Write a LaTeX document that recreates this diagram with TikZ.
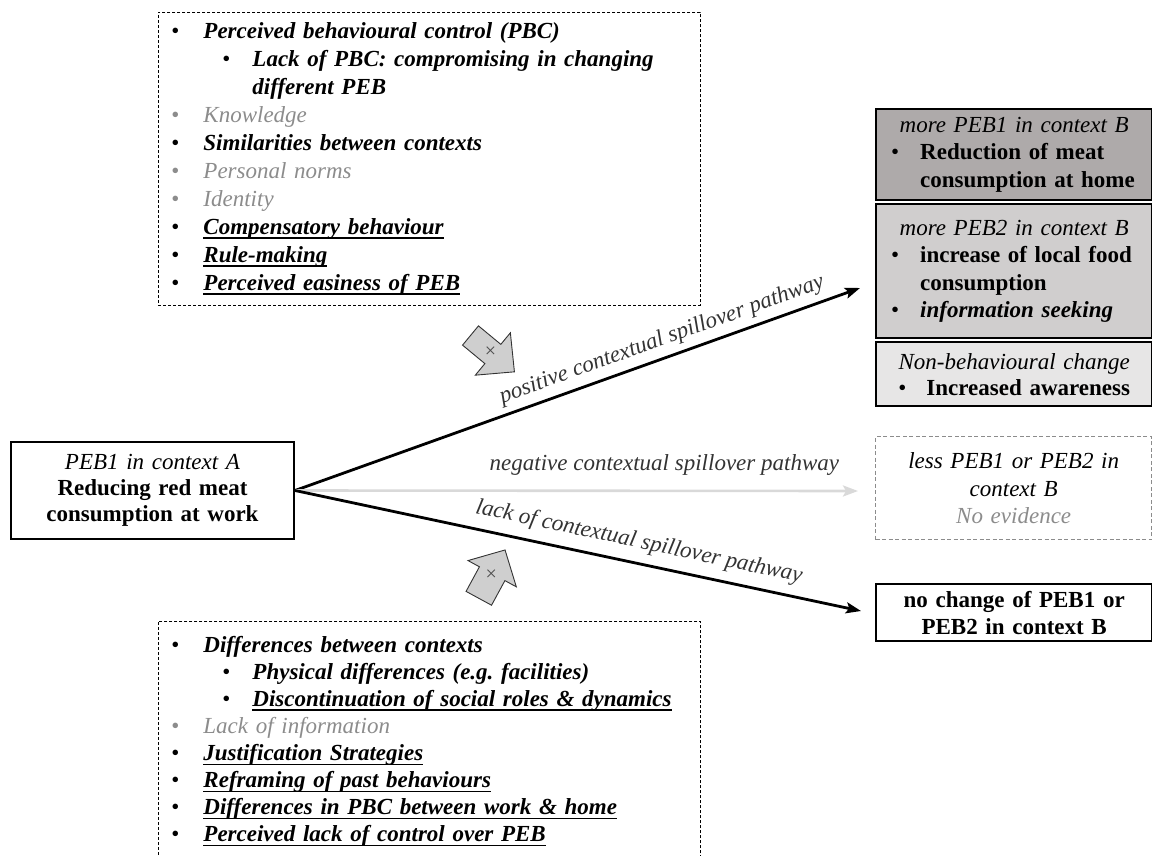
\documentclass[tikz,border=0pt]{standalone}
\usepackage{fontspec}
\setmainfont{Liberation Serif}
\usetikzlibrary{arrows.meta}
\definecolor{boxA}{HTML}{AEAAAA}
\definecolor{boxB}{HTML}{D0CECE}
\definecolor{boxC}{HTML}{E7E6E6}
\definecolor{txtgray}{HTML}{8C8C8C}
\definecolor{lblgray}{HTML}{333333}
\definecolor{arrgray}{HTML}{D9D9D9}
\definecolor{blkfill}{HTML}{CFCFCF}
\frenchspacing
\newsavebox\ulbox
\newcommand\bi[1]{{\bfseries\itshape #1}}
\newcommand\gi[1]{{\color{txtgray}\itshape #1}}
\newcommand\ulx[1]{\sbox\ulbox{#1}\rlap{\rule[-4.5pt]{\wd\ulbox}{1.6pt}}\usebox\ulbox}
\newcommand\bu[3]{\hspace*{#1}\makebox[#2][l]{\color{#3}\textbullet}}
\newcommand\cl[1]{\makebox[276pt][c]{#1}}
\begin{document}
\begin{tikzpicture}[x=1pt,y=-1pt,
  dbox/.style={draw, dash pattern=on 3pt off 2pt, line width=0.9pt, inner sep=0pt,
    anchor=north west, align=left, font=\fontsize{23}{28}\selectfont},
  rbox/.style={draw, line width=2.4pt, inner sep=0pt, anchor=north west, text width=276pt,
    align=left, font=\fontsize{23}{27.5}\selectfont},
  gbox/.style={draw=txtgray, dash pattern=on 4pt off 2.5pt, line width=1.4pt, inner sep=0pt,
    anchor=north west, text width=276pt, align=center, font=\fontsize{23}{27.5}\selectfont},
  lbox/.style={draw, line width=2pt, inner sep=0pt, minimum width=283pt, minimum height=97pt,
    text width=283pt, align=center, font=\fontsize{23}{26}\selectfont},
  lbl/.style={font=\fontsize{23}{23}\selectfont\itshape, text=lblgray, inner sep=0pt},
  parr/.style={line width=2.8pt, -{Stealth[length=15pt,width=11pt,inset=3pt]}},
  garr/.style={line width=2.6pt, draw=arrgray, -{Stealth[length=15pt,width=11pt,inset=3pt]}},
  blk/.style={draw=black!80, line width=0.9pt, fill=blkfill, line join=miter},
  xmark/.style={font=\fontsize{20}{20}\selectfont, text=black!70, inner sep=0pt}
]
\useasboundingbox (0,0) rectangle (1152,856);

% top influence box
\node[dbox, text width=542pt, minimum height=293pt] (top) at (158,12) {%
\bu{13pt}{32pt}{black}\bi{Perceived behavioural control (PBC)}\\
\bu{64pt}{30pt}{black}\bi{Lack of PBC: compromising in changing}\\
\hspace*{94pt}\bi{different PEB}\\
\bu{13pt}{32pt}{txtgray}\gi{Knowledge}\\
\bu{13pt}{32pt}{black}\bi{Similarities between contexts}\\
\bu{13pt}{32pt}{txtgray}\gi{Personal norms}\\
\bu{13pt}{32pt}{txtgray}\gi{Identity}\\
\bu{13pt}{32pt}{black}\ulx{\bi{Compensatory behaviour}}\\
\bu{13pt}{32pt}{black}\ulx{\bi{Rule-making}}\\
\bu{13pt}{32pt}{black}\ulx{\bi{Perceived easiness of PEB}}};

% bottom influence box
\node[dbox, text width=542pt, minimum height=240pt, font=\fontsize{23}{27.1}\selectfont] (bot) at (158,621) {%
\bu{13pt}{32pt}{black}\bi{Differences between contexts}\\
\bu{64pt}{30pt}{black}\bi{Physical differences (e.g. facilities)}\\
\bu{64pt}{30pt}{black}\ulx{\bi{Discontinuation of social roles \& dynamics}}\\
\bu{13pt}{32pt}{txtgray}\gi{Lack of information}\\
\bu{13pt}{32pt}{black}\ulx{\bi{Justification Strategies}}\\
\bu{13pt}{32pt}{black}\ulx{\bi{Reframing of past behaviours}}\\
\bu{13pt}{32pt}{black}\ulx{\bi{Differences in PBC between work \& home}}\\
\bu{13pt}{32pt}{black}\ulx{\bi{Perceived lack of control over PEB}}};

% source box
\node[lbox] (src) at (152.5,490.5) {\textit{PEB1 in context A}\\\textbf{Reducing red meat}\\\textbf{consumption at work}};

% outcome boxes
\node[rbox, fill=boxA, minimum height=91pt] (b1) at (875,108) {%
\cl{\itshape more PEB1 in context B}\\
\bu{15pt}{29pt}{black}\textbf{Reduction of meat}\\
\hspace*{44pt}\textbf{consumption at home}};

\node[rbox, fill=boxB, minimum height=134pt] (b2) at (875,203) {%
\cl{\itshape more PEB2 in context B}\\
\bu{15pt}{29pt}{black}\textbf{increase of local food}\\
\hspace*{44pt}\textbf{consumption}\\
\bu{15pt}{29pt}{black}\bi{information seeking}};

\node[rbox, fill=boxC, minimum height=64pt, font=\fontsize{23}{26}\selectfont] (b3) at (875,341) {%
\cl{\itshape Non-behavioural change}\\
\cl{\textbullet\hspace{20pt}\textbf{Increased awareness}}};

\node[gbox, minimum height=103pt] (neg) at (875,436) {%
\itshape less PEB1 or PEB2 in\\ context B\\ \color{txtgray}No evidence};

\node[rbox, align=center, minimum height=57pt, font=\fontsize{23}{27}\selectfont\bfseries] (nochg) at (875,583) {%
no change of PEB1 or\\PEB2 in context B};

% arrow ends
\coordinate (pe) at (860,288);
\coordinate (ne) at (858,491);
\coordinate (le) at (861,611);

\draw[parr] (src.east) -- node[lbl, sloped, above=6pt, pos=0.66] (lp) {positive contextual spillover pathway} (pe);
\draw[garr] (src.east) -- node[lbl, above=14pt, pos=0.656] (ln) {negative contextual spillover pathway} (ne);
\draw[parr] (src.east) -- node[lbl, sloped, above=9pt, pos=0.6] (ll) {lack of contextual spillover pathway} (le);

% block arrows
\begin{scope}[shift={(470.5,335.5)}, rotate=-39.6]
\draw[blk] (0,-12.5) -- (29,-12.5) -- (29,-27.5) -- (57,0) -- (29,27.5) -- (29,12.5) -- (0,12.5) -- cycle;
\node[xmark] (xa) at (26,0) {×};
\end{scope}
\begin{scope}[shift={(478.8,598.3)}, rotate=61.5]
\draw[blk] (0,-14.5) -- (28,-14.5) -- (28,-27.5) -- (55,0) -- (28,27.5) -- (28,14.5) -- (0,14.5) -- cycle;
\node[xmark] (xb) at (26,0) {×};
\end{scope}
\end{tikzpicture}
\end{document}
